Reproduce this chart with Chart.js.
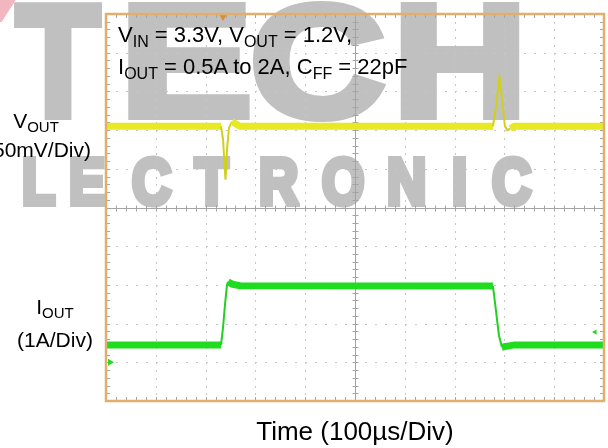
<!DOCTYPE html>
<html lang="en">
<head>
<meta charset="UTF-8">
<title>Load transient</title>
<script src="https://cdn.jsdelivr.net/npm/chart.js"></script>
<style>
    body {
        margin: 0;
        background: #fff;
        font-family: "Liberation Sans", Arial, sans-serif;
    }
    .wrap {
        position: relative;
        width: 608px;
        height: 448px;
        overflow: hidden;
        background: #fff;
    }
    .wm {
        position: absolute;
        font-weight: bold;
        color: #c0c0c0;
        line-height: 1;
        transform-origin: 0 0;
        white-space: pre;
    }
    .big { font-size: 160px; top: -19px; -webkit-text-stroke: 8px #c0c0c0; }
    .small { font-size: 64px; top: 150px; -webkit-text-stroke: 6px #c0c0c0; transform: scaleX(0.85); }
    .pink {
        position: absolute;
        left: -6px;
        top: -4px;
        width: 16px;
        height: 26px;
        background: #f2b6c0;
        transform: skewX(-33deg);
    }
    canvas { position: absolute; left: 0; top: 0; }
    .lbl {
        position: absolute;
        color: #000;
        line-height: 1;
        white-space: nowrap;
    }
    .side { font-size: 21px; width: 100px; text-align: center; }
    .side sub { font-size: 15px; vertical-align: -4px; line-height: 0; }
    .note { font-size: 22px; left: 118px; }
    .note sub { font-size: 16px; vertical-align: -5px; line-height: 0; }
    .xtitle { font-size: 26px; left: 205px; width: 300px; text-align: center; top: 418px; }
</style>
</head>
<body>
<div class="wrap">
    <!-- watermark, sits under the transparent canvas -->
    <div class="pink"></div>
    <span class="wm big" style="left:16px;transform:scaleX(0.86)">T</span>
    <span class="wm big" style="left:120px;transform:scaleX(1.24)">E</span>
    <span class="wm big" style="left:250px;transform:scaleX(1.17)">C</span>
    <span class="wm big" style="left:393px;transform:scaleX(1.16)">H</span>
    <span class="wm small" style="left:-41px">E</span>
    <span class="wm small" style="left:22px">L</span>
    <span class="wm small" style="left:69px">E</span>
    <span class="wm small" style="left:132px">C</span>
    <span class="wm small" style="left:195px">T</span>
    <span class="wm small" style="left:259px">R</span>
    <span class="wm small" style="left:322px">O</span>
    <span class="wm small" style="left:387px">N</span>
    <span class="wm small" style="left:452px">I</span>
    <span class="wm small" style="left:492px">C</span>

    <canvas id="scope" width="608" height="448"></canvas>

    <div class="lbl note" style="top:24px">V<sub>IN</sub> = 3.3V, V<sub>OUT</sub> = 1.2V,</div>
    <div class="lbl note" style="top:56px">I<sub>OUT</sub> = 0.5A to 2A, C<sub>FF</sub> = 22pF</div>
    <div class="lbl side" style="left:-14px;top:110px">V<sub>OUT</sub></div>
    <div class="lbl side" style="left:-14px;top:139px">(50mV/Div)</div>
    <div class="lbl side" style="left:5px;top:296px">I<sub>OUT</sub></div>
    <div class="lbl side" style="left:5px;top:329px">(1A/Div)</div>
    <div class="lbl xtitle">Time (100µs/Div)</div>
</div>
<script>
    // scope ranges: 10 divisions each way
    const timeRangeUs = [0, 1000];      // 100 µs/div
    const voutRangeV = [0.845, 1.345];  // 50 mV/div
    const ioutRangeA = [-1, 9];         // 1 A/div

    // channel 1, VOUT
    const voutTimeUs = [0, 231, 235, 238, 240, 243, 247, 253, 261, 269, 777, 783, 790, 797, 801, 806, 812, 820, 1000];
    const voutVolts = [1.200, 1.200, 1.183, 1.150, 1.131, 1.170, 1.198, 1.206, 1.203, 1.200, 1.200, 1.225, 1.264, 1.225, 1.200, 1.195, 1.197, 1.200, 1.200];

    // channel 2, IOUT
    const ioutTimeUs = [0, 231, 235, 239, 243, 245, 253, 269, 777, 783, 789, 795, 803, 821, 1000];
    const ioutAmps = [0.45, 0.45, 0.90, 1.50, 2.00, 2.08, 2.02, 1.98, 1.97, 1.34, 0.70, 0.39, 0.41, 0.45, 0.45];

    const triggerTimeUs = 235;
    const triggerLevelA = 0.78;
    const groundA = 0;

    function pairs(xs, ys) {
        return xs.map((x, i) => ({ x: x, y: ys[i] }));
    }

    // flat stretches show as the thick noisy band, fast edges as a thin trace
    function isBand(c) {
        return c.p1.parsed.x - c.p0.parsed.x >= 8;
    }

    const graticule = {
        id: 'graticule',
        beforeDatasetsDraw(chart) {
            const ctx = chart.ctx, a = chart.chartArea;
            const w = a.right - a.left, h = a.bottom - a.top;
            const cx = Math.round(a.left + w / 2) + 0.5, cy = Math.round(a.top + h / 2) + 0.5;
            ctx.save();
            // dotted divisions
            ctx.fillStyle = '#c6c6c6';
            for (let d = 1; d < 10; d++) {
                if (d === 5) continue;
                const gx = Math.round(a.left + d * w / 10), gy = Math.round(a.top + d * h / 10);
                for (let m = 1; m < 50; m++) {
                    ctx.fillRect(gx, Math.round(a.top + m * h / 50), 1, 2);
                    ctx.fillRect(Math.round(a.left + m * w / 50), gy, 2, 1);
                }
            }
            // centre cross + minor ticks on it and on the frame
            ctx.strokeStyle = '#a4a4a4';
            ctx.lineWidth = 1;
            ctx.beginPath();
            ctx.moveTo(a.left, cy); ctx.lineTo(a.right, cy);
            ctx.moveTo(cx, a.top); ctx.lineTo(cx, a.bottom);
            for (let m = 1; m < 50; m++) {
                const tx = Math.round(a.left + m * w / 50) + 0.5;
                const ty = Math.round(a.top + m * h / 50) + 0.5;
                ctx.moveTo(tx, cy - 3); ctx.lineTo(tx, cy + 3);
                ctx.moveTo(cx - 3, ty); ctx.lineTo(cx + 3, ty);
                ctx.moveTo(tx, a.top); ctx.lineTo(tx, a.top + 4);
                ctx.moveTo(tx, a.bottom); ctx.lineTo(tx, a.bottom - 4);
                ctx.moveTo(a.left, ty); ctx.lineTo(a.left + 4, ty);
                ctx.moveTo(a.right, ty); ctx.lineTo(a.right - 4, ty);
            }
            ctx.stroke();
            ctx.restore();
        },
        afterDatasetsDraw(chart) {
            const ctx = chart.ctx, a = chart.chartArea;
            ctx.save();
            ctx.strokeStyle = '#e3ae6c';
            ctx.lineWidth = 2.5;
            ctx.strokeRect(a.left, a.top, a.right - a.left, a.bottom - a.top);
            ctx.restore();
        }
    };

    const ctx = document.getElementById('scope').getContext('2d');
    const scope = new Chart(ctx, {
        type: 'line',
        data: {
            datasets: [
                {
                    label: 'VOUT',
                    data: pairs(voutTimeUs, voutVolts),
                    yAxisID: 'yv',
                    borderColor: '#e8e824',
                    pointRadius: 0,
                    tension: 0,
                    segment: {
                        borderWidth: c => isBand(c) ? 7 : 2,
                        borderColor: c => isBand(c) ? '#e8e824' : '#d0d01c'
                    }
                },
                {
                    label: 'IOUT',
                    data: pairs(ioutTimeUs, ioutAmps),
                    yAxisID: 'yi',
                    borderColor: '#20dc20',
                    pointRadius: 0,
                    tension: 0,
                    segment: {
                        borderWidth: c => isBand(c) ? 7 : 2,
                        borderColor: c => isBand(c) ? '#20dc20' : '#22d022'
                    }
                },
                {
                    label: 'trigger',
                    data: [{ x: triggerTimeUs, y: voutRangeV[1] - 0.004 }],
                    yAxisID: 'yv',
                    showLine: false,
                    pointStyle: 'triangle',
                    rotation: 180,
                    pointRadius: 4,
                    pointBackgroundColor: '#d98e2c',
                    pointBorderWidth: 0
                },
                {
                    label: 'ch2 ground',
                    data: [{ x: timeRangeUs[0] + 8, y: groundA }],
                    yAxisID: 'yi',
                    showLine: false,
                    pointStyle: 'triangle',
                    rotation: 90,
                    pointRadius: 4,
                    pointBackgroundColor: '#20dc20',
                    pointBorderWidth: 0
                },
                {
                    label: 'trigger level',
                    data: [{ x: timeRangeUs[1] - 18, y: triggerLevelA }],
                    yAxisID: 'yi',
                    showLine: false,
                    pointStyle: 'triangle',
                    rotation: -90,
                    pointRadius: 3,
                    pointBackgroundColor: '#30d030',
                    pointBorderWidth: 0
                }
            ]
        },
        options: {
            responsive: false,
            animation: false,
            events: [],
            layout: { padding: { left: 106, top: 14, right: 4, bottom: 47 } },
            scales: {
                x: { type: 'linear', min: timeRangeUs[0], max: timeRangeUs[1], display: false },
                yv: { type: 'linear', min: voutRangeV[0], max: voutRangeV[1], display: false },
                yi: { type: 'linear', min: ioutRangeA[0], max: ioutRangeA[1], display: false }
            },
            plugins: {
                legend: { display: false },
                tooltip: { enabled: false }
            }
        },
        plugins: [graticule]
    });
</script>
</body>
</html>
